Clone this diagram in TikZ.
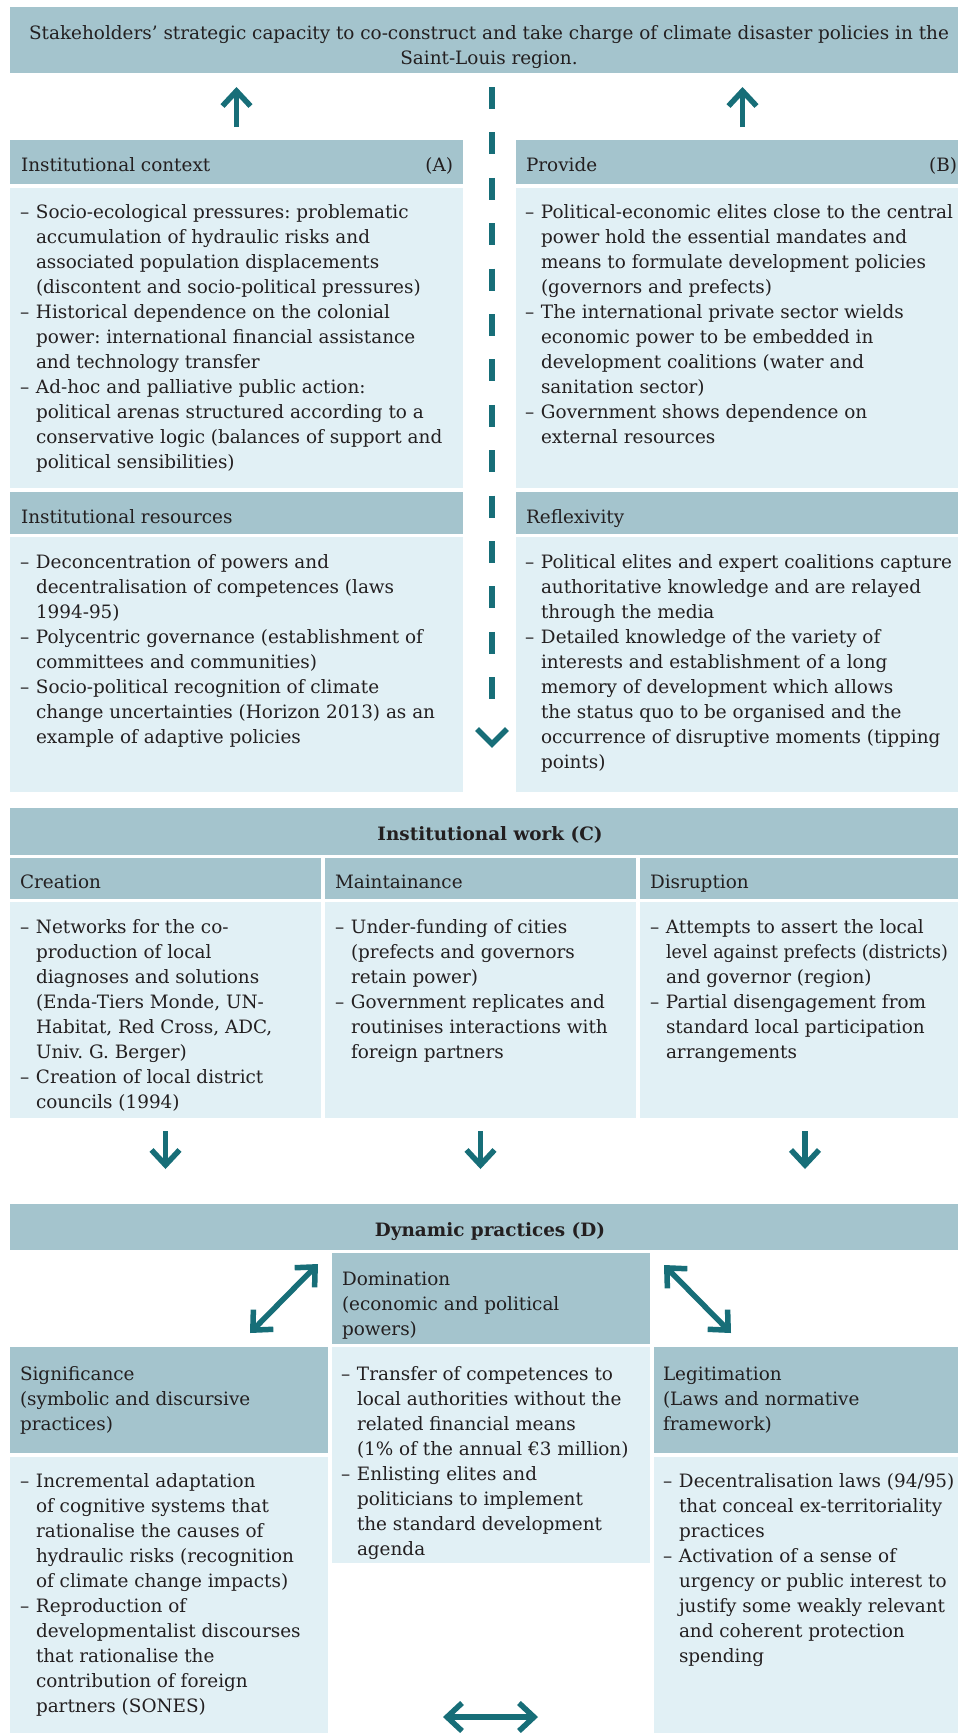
\documentclass[tikz,border=0pt]{standalone}
\usepackage{fontspec}
\usepackage{graphicx}
\setmainfont{DejaVu Serif}
\usetikzlibrary{arrows.meta}
\definecolor{hdr}{HTML}{A4C4CD}
\definecolor{bdy}{HTML}{E1F0F5}
\definecolor{arr}{HTML}{176E78}
\definecolor{txt}{HTML}{231F20}
\newcommand{\bl}{\makebox[16pt][l]{–}}
\newcommand{\ct}{\makebox[16pt]{}}
\newcommand{\fnt}{\fontsize{18.4}{25}\selectfont}
\frenchspacing
\begin{document}
\begin{tikzpicture}[x=1pt,y=-1pt,
  hb/.style={fill=hdr,draw=none,inner sep=0,outer sep=0},
  bb/.style={fill=bdy,draw=none,inner sep=0,outer sep=0},
  tx/.style={inner sep=0,outer sep=0,text=txt,font=\fnt},
  tb/.style={tx,anchor=north west,align=left},
  arrw/.style={draw=arr,line width=5.5pt,-{Straight Barb[length=15pt,width=28pt]}},
  arrd/.style={draw=arr,line width=5.5pt,{Straight Barb[length=15pt,width=28pt]}-{Straight Barb[length=15pt,width=28pt]}},
  dashln/.style={draw=arr,line width=6pt,dash pattern=on 22pt off 23.4pt}
]
\useasboundingbox (0,0) rectangle (958,1733);
\fill[white] (0,0) rectangle (958,1733);

% ---- boxes
\node[hb,minimum width=959pt,minimum height=66pt] (top) at (489.5,40) {};
\node[hb,minimum width=453pt,minimum height=44pt] (ctxh) at (236.5,162) {};
\node[bb,minimum width=453pt,minimum height=300pt] (ctxb) at (236.5,338) {};
\node[hb,minimum width=453pt,minimum height=42pt] (resh) at (236.5,513) {};
\node[bb,minimum width=453pt,minimum height=255pt] (resb) at (236.5,664.5) {};
\node[hb,minimum width=453pt,minimum height=44pt] (provh) at (742.5,162) {};
\node[bb,minimum width=453pt,minimum height=300pt] (provb) at (742.5,338) {};
\node[hb,minimum width=453pt,minimum height=42pt] (refh) at (742.5,513) {};
\node[bb,minimum width=453pt,minimum height=255pt] (refb) at (742.5,664.5) {};

\node[hb,minimum width=960pt,minimum height=47pt] (workh) at (490,831.5) {};
\node[hb,minimum width=311pt,minimum height=41pt] (creh) at (165.5,878.5) {};
\node[hb,minimum width=311pt,minimum height=41pt] (mainh) at (480.5,878.5) {};
\node[hb,minimum width=330pt,minimum height=41pt] (disrh) at (805,878.5) {};
\node[bb,minimum width=311pt,minimum height=216pt] (creb) at (165.5,1010) {};
\node[bb,minimum width=311pt,minimum height=216pt] (mainb) at (480.5,1010) {};
\node[bb,minimum width=330pt,minimum height=216pt] (disrb) at (805,1010) {};

\node[hb,minimum width=960pt,minimum height=46pt] (dynh) at (490,1227) {};
\node[hb,minimum width=318pt,minimum height=91pt] (domh) at (491,1298.5) {};
\node[bb,minimum width=318pt,minimum height=216pt] (domb) at (491,1455) {};
\node[hb,minimum width=318pt,minimum height=106pt] (sigh) at (169,1400) {};
\node[bb,minimum width=318pt,minimum height=283pt] (sigb) at (169,1598.5) {};
\node[hb,minimum width=318pt,minimum height=106pt] (legh) at (813,1400) {};
\node[bb,minimum width=318pt,minimum height=283pt] (legb) at (813,1598.5) {};

% ---- texts
\node[tx,anchor=north,align=center] (toptx) at (489,21.5) {\strut Stakeholders’ strategic capacity to co-construct and take charge of climate disaster policies in the\\Saint-Louis region.};

\node[tx,anchor=base west] (ctxt) at (21,171) {Institutional context};
\node[tx,anchor=base east] (ctxa) at (453,171) {(A)};
\node[tx,anchor=base west] (provt) at (526,171) {Provide};
\node[tx,anchor=base east] (provbb) at (957,171) {(B)};
\node[tx,anchor=base west] (rest) at (21,523) {Institutional resources};
\node[tx,anchor=base west] (reft) at (526,523) {Reflexivity};

\node[tb] (ctxbt) at (20,200.5) {\strut\bl Socio-ecological pressures: problematic\\
\ct accumulation of hydraulic risks and\\
\ct associated population displacements\\
\ct (discontent and socio-political pressures)\\
\bl Historical dependence on the colonial\\
\ct power: international financial assistance\\
\ct and technology transfer\\
\bl Ad-hoc and palliative public action:\\
\ct political arenas structured according to a\\
\ct conservative logic (balances of support and\\
\ct political sensibilities)};

\node[tb] (provbt) at (525,200.5) {\strut\bl Political-economic elites close to the central\\
\ct power hold the essential mandates and\\
\ct means to formulate development policies\\
\ct (governors and prefects)\\
\bl The international private sector wields\\
\ct economic power to be embedded in\\
\ct development coalitions (water and\\
\ct sanitation sector)\\
\bl Government shows dependence on\\
\ct external resources};

\node[tb] (resbt) at (20,550.5) {\strut\bl Deconcentration of powers and\\
\ct decentralisation of competences (laws\\
\ct 1994-95)\\
\bl Polycentric governance (establishment of\\
\ct committees and communities)\\
\bl Socio-political recognition of climate\\
\ct change uncertainties (Horizon 2013) as an\\
\ct example of adaptive policies};

\node[tb] (refbt) at (525,550.5) {\strut\bl Political elites and expert coalitions capture\\
\ct authoritative knowledge and are relayed\\
\ct through the media\\
\bl Detailed knowledge of the variety of\\
\ct interests and establishment of a long\\
\ct memory of development which allows\\
\ct the status quo to be organised and the\\
\ct occurrence of disruptive moments (tipping\\
\ct points)};

\node[tx,anchor=base,font=\fnt\bfseries] (workt) at (490,840) {Institutional work (C)};
\node[tx,anchor=base west] (cret) at (20,888) {Creation};
\node[tx,anchor=base west] (maint) at (335,888) {Maintainance};
\node[tx,anchor=base west] (disrt) at (650,888) {Disruption};

\node[tb] (crebt) at (20,915.5) {\strut\bl Networks for the co-\\
\ct production of local\\
\ct diagnoses and solutions\\
\ct (Enda-Tiers Monde, UN-\\
\ct Habitat, Red Cross, ADC,\\
\ct Univ. G. Berger)\\
\bl Creation of local district\\
\ct councils (1994)};

\node[tb] (mainbt) at (335,915.5) {\strut\bl Under-funding of cities\\
\ct (prefects and governors\\
\ct retain power)\\
\bl Government replicates and\\
\ct routinises interactions with\\
\ct foreign partners};

\node[tb] (disrbt) at (650,915.5) {\strut\bl Attempts to assert the local\\
\ct \scalebox{0.95}[1]{level against prefects (districts)}\\
\ct and governor (region)\\
\bl Partial disengagement from\\
\ct standard local participation\\
\ct arrangements};

\node[tx,anchor=base,font=\fnt\bfseries] (dynt) at (490,1236) {Dynamic practices (D)};

\node[tb] (domht) at (342,1267.5) {\strut Domination\\(economic and political\\powers)};
\node[tb] (dombt) at (341,1362.5) {\strut\bl Transfer of competences to\\
\ct local authorities without the\\
\ct related financial means\\
\ct (1\% of the annual €3 million)\\
\bl Enlisting elites and\\
\ct politicians to implement\\
\ct the standard development\\
\ct agenda};

\node[tb] (sight) at (20,1362.5) {\strut Significance\\(symbolic and discursive\\practices)};
\node[tb] (sigbt) at (20,1469.5) {\strut\bl Incremental adaptation\\
\ct of cognitive systems that\\
\ct rationalise the causes of\\
\ct hydraulic risks (recognition\\
\ct of climate change impacts)\\
\bl Reproduction of\\
\ct developmentalist discourses\\
\ct that rationalise the\\
\ct contribution of foreign\\
\ct partners (SONES)};

\node[tb] (leght) at (663,1362.5) {\strut Legitimation\\(Laws and normative\\framework)};
\node[tb] (legbt) at (663,1469.5) {\strut\bl Decentralisation laws (94/95)\\
\ct that conceal ex-territoriality\\
\ct practices\\
\bl Activation of a sense of\\
\ct urgency or public interest to\\
\ct justify some weakly relevant\\
\ct and coherent protection\\
\ct spending};

% ---- connectors
\draw[arrw,shorten <=13pt,shorten >=14pt] (ctxh.north) -- (ctxh.north |- top.south);
\draw[arrw,shorten <=13pt,shorten >=14pt] (provh.north) -- (provh.north |- top.south);

\coordinate (dstart) at (492,87);
\coordinate (dstop) at (492,700);
\coordinate (vl) at (477,729);
\coordinate (vt) at (492,744);
\coordinate (vr) at (507,729);
\draw[dashln] (dstart) -- (dstop);
\draw[draw=arr,line width=5.5pt] (vl) -- (vt) -- (vr);

\draw[arrw,shorten <=13pt,shorten >=35pt] (creb.south) -- (creb.south |- dynh.north);
\draw[arrw,shorten <=13pt,shorten >=35pt] (mainb.south) -- (mainb.south |- dynh.north);
\draw[arrw,shorten <=13pt,shorten >=35pt] (disrb.south) -- (disrb.south |- dynh.north);

\coordinate (l1) at (250,1333);
\coordinate (l2) at (318,1264);
\coordinate (r1) at (664,1265);
\coordinate (r2) at (731,1333);
\coordinate (h1) at (443,1717);
\coordinate (h2) at (538,1717);
\draw[arrd] (l1) -- (l2);
\draw[arrd] (r1) -- (r2);
\draw[arrd] (h1) -- (h2);
\end{tikzpicture}
\end{document}
